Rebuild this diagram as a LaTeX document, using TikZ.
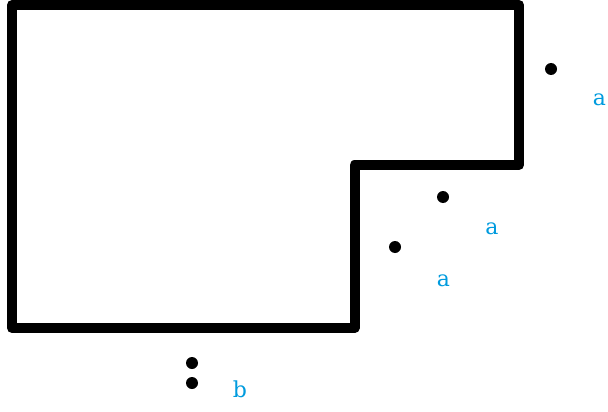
\documentclass[tikz,border=0pt]{standalone}
\usepackage{fontspec}
\setmainfont{DejaVu Serif}
\definecolor{lblblue}{RGB}{0,155,222}
\begin{document}
\begin{tikzpicture}[x=1pt,y=-1pt,
  outline/.style={line width=10pt,line join=round,black},
  dotpt/.style={circle,fill=black,inner sep=0pt,minimum size=12pt},
  lbl/.style={text=lblblue,font=\fontsize{22}{26}\selectfont,inner sep=0pt,anchor=base}]
\useasboundingbox (0,0) rectangle (608,412);
\coordinate (p1) at (12,5);
\coordinate (p2) at (519,5);
\coordinate (p3) at (519,165);
\coordinate (p4) at (354.5,165);
\coordinate (p5) at (354.5,328);
\coordinate (p6) at (12,328);
\draw[outline] (p1) -- (p2) -- (p3) -- (p4) -- (p5) -- (p6) -- cycle;
\node[dotpt] (d1) at (551,69) {};
\node[dotpt] (d2) at (443,197) {};
\node[dotpt] (d3) at (395,247) {};
\node[dotpt] (d4) at (192,363) {};
\node[dotpt] (d5) at (192,383) {};
\node[lbl] (l1) at (599.5,105) {a};
\node[lbl] (l2) at (492,234) {a};
\node[lbl] (l3) at (443.5,286) {a};
\node[lbl] (l4) at (240,397) {b};
\end{tikzpicture}
\end{document}
